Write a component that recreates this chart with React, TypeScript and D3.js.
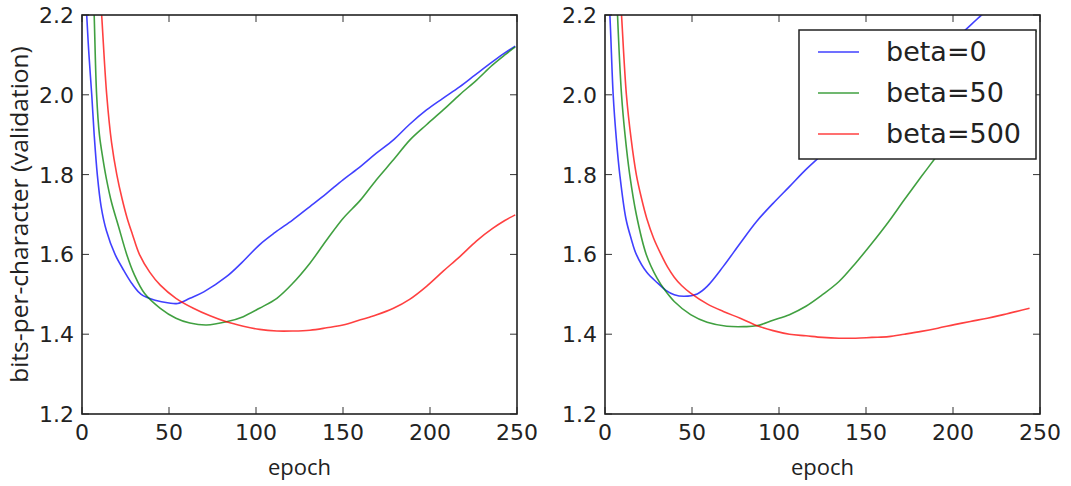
import * as d3 from "d3";

// epochs / bits-per-character
const leftBeta0: [number, number][] = [[1, 2.36], [2.7, 2.2], [4, 2.1], [5.6, 2.0], [7, 1.9], [8.8, 1.8], [11, 1.72], [14, 1.66], [19, 1.6], [24, 1.56], [29, 1.525], [34, 1.5], [42, 1.485], [50, 1.478], [55, 1.477], [62, 1.49], [70, 1.506], [83, 1.544], [92, 1.58], [102, 1.624], [111, 1.655], [121, 1.686], [131, 1.72], [140.6, 1.753], [150, 1.787], [160, 1.82], [169, 1.853], [179, 1.887], [188, 1.925], [198, 1.962], [207, 1.99], [217, 2.02], [226, 2.05], [236, 2.083], [243, 2.105], [249, 2.122]];
const leftBeta50: [number, number][] = [[5, 2.49], [7, 2.2], [8.4, 2.0], [10, 1.9], [12, 1.84], [14, 1.79], [17, 1.73], [21, 1.67], [25.7, 1.6], [30, 1.55], [36, 1.502], [45, 1.465], [54, 1.44], [62, 1.428], [71.6, 1.423], [83, 1.431], [92.7, 1.444], [102, 1.465], [112, 1.49], [121, 1.527], [131, 1.578], [140.6, 1.636], [150, 1.69], [160, 1.736], [169, 1.786], [179, 1.837], [188.5, 1.887], [198, 1.925], [207.6, 1.962], [217, 2.0], [226.8, 2.037], [236, 2.075], [243, 2.1], [249, 2.12]];
const leftBeta500: [number, number][] = [[8, 2.43], [11.3, 2.2], [14.2, 2.0], [17, 1.88], [20, 1.8], [23, 1.74], [26, 1.69], [29, 1.65], [33, 1.6], [39, 1.555], [45, 1.523], [54, 1.49], [64, 1.465], [73.6, 1.446], [83, 1.431], [92.7, 1.42], [102, 1.412], [112, 1.408], [121, 1.408], [131, 1.41], [140.6, 1.416], [150, 1.423], [160, 1.436], [169, 1.448], [179, 1.465], [188.5, 1.488], [198, 1.52], [207.6, 1.558], [217, 1.594], [226.8, 1.634], [236, 1.665], [243, 1.685], [249, 1.699]];

const rightBeta0: [number, number][] = [[1, 2.33], [2.8, 2.2], [4.7, 2.0], [6.5, 1.89], [8.5, 1.8], [12, 1.69], [15, 1.64], [18, 1.6], [24, 1.555], [30.3, 1.528], [35, 1.51], [39.8, 1.499], [45.5, 1.495], [53, 1.501], [58.7, 1.52], [68, 1.57], [77.7, 1.628], [87, 1.682], [96.6, 1.728], [106, 1.77], [116, 1.815], [130, 1.87], [150, 1.945], [170, 2.02], [190, 2.095], [207, 2.162], [216.5, 2.2], [225, 2.23]];
const rightBeta50: [number, number][] = [[5, 2.49], [7.2, 2.2], [9.5, 2.0], [11.5, 1.9], [14.2, 1.8], [18, 1.7], [23.7, 1.6], [30, 1.54], [34.5, 1.51], [39.8, 1.482], [49.2, 1.449], [58.7, 1.43], [70, 1.42], [80, 1.419], [87, 1.421], [96.6, 1.435], [106, 1.449], [115.5, 1.47], [125, 1.499], [134.5, 1.532], [144, 1.578], [153.4, 1.628], [163, 1.682], [172, 1.737], [181.8, 1.795], [189.4, 1.839], [200, 1.9], [210, 1.96], [220, 2.02], [230, 2.07], [240, 2.12], [248, 2.16]];
const rightBeta500: [number, number][] = [[8, 2.31], [9.5, 2.2], [12.3, 2.0], [15, 1.89], [18, 1.8], [21, 1.74], [24, 1.69], [28, 1.64], [32.2, 1.6], [36, 1.568], [39.8, 1.543], [44, 1.522], [49.2, 1.503], [58.7, 1.476], [68, 1.457], [77.7, 1.44], [87, 1.422], [96.6, 1.409], [106, 1.4], [115.5, 1.396], [125, 1.392], [134.5, 1.39], [144, 1.39], [153.4, 1.392], [163, 1.394], [172, 1.4], [181.8, 1.407], [191.3, 1.415], [200.8, 1.424], [210, 1.432], [219.7, 1.44], [229, 1.449], [244, 1.465]];

const seriesNames = ["beta=0", "beta=50", "beta=500"];
const colors = ["#0000ff", "#008000", "#ff0000"];
const xTicks = [0, 50, 100, 150, 200, 250];
const yTicks = [1.2, 1.4, 1.6, 1.8, 2.0, 2.2];

const W = 1071, H = 486;
const top = 15, bottom = 414, pw = 435;
const tickFont = "DejaVu Sans, sans-serif";
const labelFont = "Open Sans, sans-serif";

function Panel({ x0, series, id, ylabel, legend }: { x0: number; series: [number, number][][]; id: string; ylabel?: boolean; legend?: boolean }) {
  const x = d3.scaleLinear().domain([0, 250]).range([x0, x0 + pw]);
  const y = d3.scaleLinear().domain([1.2, 2.2]).range([bottom, top]);
  const line = d3.line<[number, number]>().x(d => x(d[0])).y(d => y(d[1])).curve(d3.curveCatmullRom);
  const tl = 7;
  return (
    <g>
      <defs>
        <clipPath id={id}>
          <rect x={x0} y={top} width={pw} height={bottom - top} />
        </clipPath>
      </defs>
      <g clipPath={`url(#${id})`}>
        {series.map((s, i) => (
          <path key={i} d={line(s) || ""} fill="none" stroke={colors[i]} strokeOpacity={0.75} strokeWidth={1.6} />
        ))}
      </g>
      {xTicks.map(t => (
        <g key={"x" + t}>
          <line x1={x(t)} x2={x(t)} y1={bottom} y2={bottom - tl} stroke="#333" strokeWidth={1} />
          <line x1={x(t)} x2={x(t)} y1={top} y2={top + tl} stroke="#333" strokeWidth={1} />
          <text x={x(t)} y={440} textAnchor="middle" fontFamily={tickFont} fontSize={22} fill="#222">{t}</text>
        </g>
      ))}
      {yTicks.map(t => (
        <g key={"y" + t}>
          <line x1={x0} x2={x0 + tl} y1={y(t)} y2={y(t)} stroke="#333" strokeWidth={1} />
          <line x1={x0 + pw} x2={x0 + pw - tl} y1={y(t)} y2={y(t)} stroke="#333" strokeWidth={1} />
          <text x={x0 - 8} y={y(t)} dy="0.36em" textAnchor="end" fontFamily={tickFont} fontSize={22} fill="#222">{t.toFixed(1)}</text>
        </g>
      ))}
      <rect x={x0} y={top} width={pw} height={bottom - top} fill="none" stroke="#222" strokeWidth={1.6} />
      <text x={x0 + pw / 2} y={475} textAnchor="middle" fontFamily={labelFont} fontSize={22} fill="#222">epoch</text>
      {ylabel && (
        <text transform={`translate(28,${(top + bottom) / 2}) rotate(-90)`} textAnchor="middle" fontFamily={labelFont} fontSize={24.5} fill="#222">bits-per-character (validation)</text>
      )}
      {legend && (
        <g>
          <rect x={799} y={30} width={237} height={129} fill="#fff" stroke="#222" strokeWidth={1.5} />
          {seriesNames.map((n, i) => (
            <g key={n}>
              <line x1={818} x2={859} y1={52 + i * 41} y2={52 + i * 41} stroke={colors[i]} strokeOpacity={0.75} strokeWidth={1.6} />
              <text x={886} y={61 + i * 41} fontFamily={tickFont} fontSize={27} fill="#222">{n}</text>
            </g>
          ))}
        </g>
      )}
    </g>
  );
}

export default function App() {
  return (
    <svg width={W} height={H} viewBox={`0 0 ${W} ${H}`} style={{ position: "absolute", left: 0, top: 0, background: "#fff" }}>
      <Panel x0={82} id="clipL" series={[leftBeta0, leftBeta50, leftBeta500]} ylabel />
      <Panel x0={605} id="clipR" series={[rightBeta0, rightBeta50, rightBeta500]} legend />
    </svg>
  );
}
